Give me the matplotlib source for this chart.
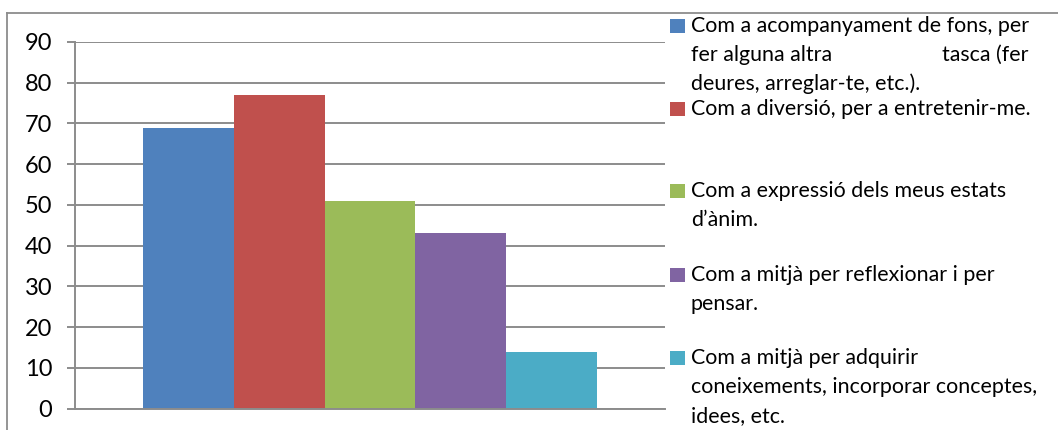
import matplotlib
matplotlib.use("Agg")
import matplotlib.pyplot as plt
from matplotlib.patches import Rectangle
from matplotlib.lines import Line2D

plt.rcParams['font.family'] = ['Lato', 'DejaVu Sans']

# Data
categories = [
    "Com a acompanyament de fons, per\nfer alguna altra\ttasca (fer\ndeures, arreglar-te, etc.).",
    "Com a diversió, per a entretenir-me.",
    "Com a expressió dels meus estats\nd’ànim.",
    "Com a mitjà per reflexionar i per\npensar.",
    "Com a mitjà per adquirir\nconeixements, incorporar conceptes,\nidees, etc.",
]
values = [69, 77, 51, 43, 14]
colors = ['#4F81BD', '#C0504D', '#9BBB59', '#8064A2', '#4BACC6']
yticks = [0, 10, 20, 30, 40, 50, 60, 70, 80, 90]

W, H = 1058, 430
fig = plt.figure(figsize=(W / 100, H / 100), dpi=100)

def fx(px):
    return px / W

def fy(py):
    return 1 - py / H

grid_c = '#8C8C8C'

# outer chart border (cropped)
fig.add_artist(Line2D([fx(7), fx(W)], [fy(13), fy(13)], color=grid_c, lw=1.3))
fig.add_artist(Line2D([fx(7), fx(7)], [fy(13), fy(H)], color=grid_c, lw=1.3))

ax = fig.add_axes([fx(75), fy(408.7), fx(665) - fx(75), fy(42) - fy(408.7)])
x = list(range(len(values)))
ax.bar(x, values, width=1.0, color=colors, zorder=3)
ax.set_xlim(-1.256, len(values) - 1 + 1.256)
ax.set_ylim(0, 90)
ax.set_yticks(yticks)
ax.set_yticklabels([str(t) for t in yticks], fontsize=17, color='#000000')
ax.set_xticks([])
ax.yaxis.grid(True, color=grid_c, lw=1.4, zorder=0)
ax.set_axisbelow(True)
ax.tick_params(axis='y', direction='out', length=5.8, width=1.4, color=grid_c, pad=10.5)
for s in ['top', 'right']:
    ax.spines[s].set_visible(False)
for s in ['left', 'bottom']:
    ax.spines[s].set_color(grid_c)
    ax.spines[s].set_linewidth(1.4)
ax.spines['bottom'].set_zorder(4)

# legend, drawn manually
baselines = [[32, 61, 90], [115], [197, 226], [281, 310], [364, 393, 422]]
tx = 691
for cat, col, bls in zip(categories, colors, baselines):
    b0 = bls[0]
    fig.add_artist(Rectangle((fx(670), fy(b0 + 1)), fx(685) - fx(670), fy(b0 - 13) - fy(b0 + 1),
                             facecolor=col, edgecolor='none'))
    for line, bl in zip(cat.split('\n'), bls):
        parts = line.split('\t')
        fig.text(fx(tx), fy(bl), parts[0], fontsize=15.4, va='baseline', ha='left', color='#000000')
        if len(parts) > 1:
            fig.text(fx(942), fy(bl), parts[1], fontsize=15.4, va='baseline', ha='left', color='#000000')

fig.savefig('out.png', dpi=100)
